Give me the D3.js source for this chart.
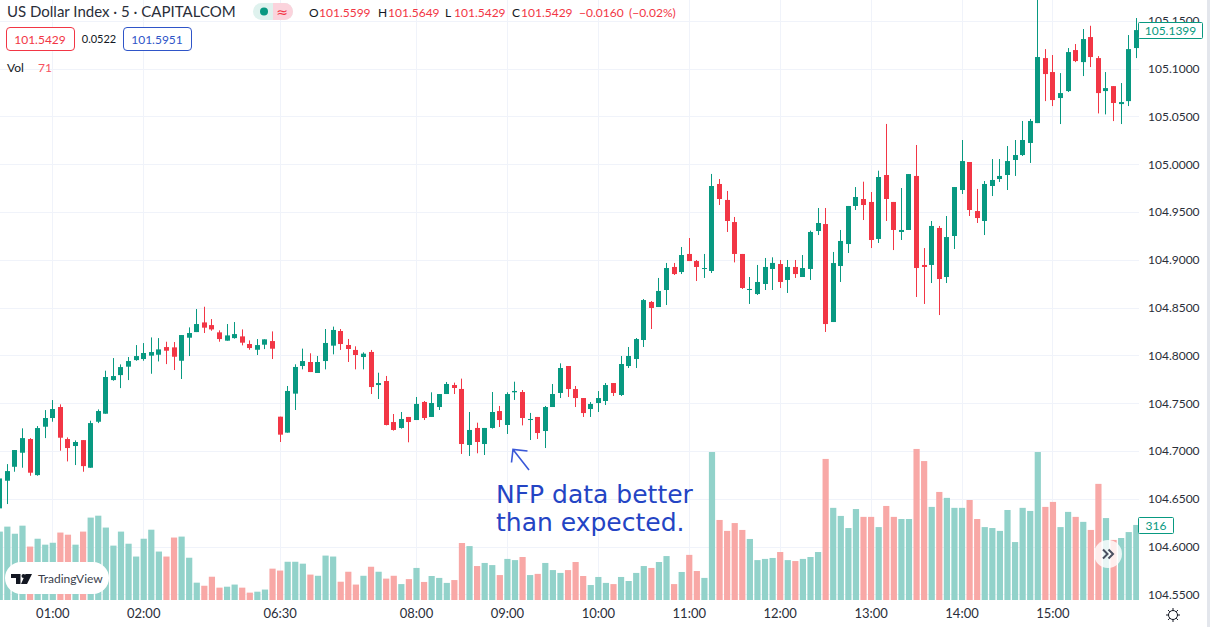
<!DOCTYPE html>
<html>
<head>
<meta charset="utf-8">
<script src="https://cdn.jsdelivr.net/npm/d3@7"></script>
<style>
  html, body { margin: 0; padding: 0; background: #fff; }
  svg { display: block; }
  text { font-family: "Lato", "Open Sans", sans-serif; fill: #131722; }
</style>
</head>
<body>
<svg id="chart" width="1210" height="627"></svg>
<script>
// 5 minute candles
var opens = [104.6400,104.6689,104.6835,104.6982,104.7125,104.6748,104.7254,104.7345,104.7460,104.7125,104.7052,104.7114,104.6825,104.7306,104.7390,104.7742,104.7794,104.7882,104.7951,104.7962,104.7997,104.8007,104.8087,104.8084,104.7944,104.8185,104.8244,104.8345,104.8317,104.8241,104.8154,104.8181,104.8199,104.8119,104.8059,104.8112,104.8150,
  104.7359,104.7192,104.7600,104.7889,104.7931,104.7816,104.7941,104.8102,104.8255,104.8109,104.8057,104.7983,104.8036,104.7690,104.7732,104.7303,104.7241,104.7356,104.7324,104.7513,104.7356,104.7460,104.7596,104.7690,104.7649,104.7063,104.7241,104.7073,104.7241,104.7418,104.7272,104.7614,104.7617,104.7324,104.7356,104.7209,104.7460,
  104.7607,104.7889,104.7648,104.7554,104.7439,104.7502,104.7523,104.7711,104.7586,104.7889,104.7962,104.8161,104.8559,104.8506,104.8684,104.8925,104.8872,104.9061,104.8987,104.8904,104.8883,104.9793,104.9626,104.9395,104.9061,104.8684,104.8642,104.8747,104.8904,104.8956,104.8789,104.8925,104.8820,104.8904,104.9301,
  104.9374,104.8349,104.8935,104.9165,104.9563,104.9636,104.9605,104.9218,104.9887,104.9605,104.9291,104.9312,104.9877,104.8946,104.8946,104.9333,104.8820,104.9249,104.9730,105.0023,104.9510,104.9406,104.9772,104.9845,104.9887,105.0044,105.0096,105.0222,105.0430,105.1110,105.0964,105.0692,105.0765,105.1194,105.1068,105.1330,105.1110,105.0765,105.0817,105.0629,105.0660,105.1215];
var highs = [104.6731,104.6863,104.7010,104.7237,104.7135,104.7261,104.7428,104.7533,104.7488,104.7142,104.7111,104.7114,104.7317,104.7435,104.7840,104.7972,104.7906,104.7983,104.8108,104.8129,104.8188,104.8181,104.8143,104.8140,104.8213,104.8293,104.8485,104.8509,104.8380,104.8262,104.8328,104.8349,104.8272,104.8157,104.8171,104.8168,104.8251,
  104.7359,104.7680,104.7907,104.8071,104.8022,104.7994,104.8276,104.8301,104.8276,104.8172,104.8095,104.8032,104.8057,104.7819,104.7785,104.7387,104.7408,104.7356,104.7565,104.7523,104.7614,104.7596,104.7722,104.7715,104.7757,104.7408,104.7296,104.7241,104.7617,104.7471,104.7614,104.7725,104.7638,104.7398,104.7356,104.7471,104.7701,
  104.7917,104.7889,104.7680,104.7554,104.7512,104.7627,104.7711,104.7711,104.7994,104.8088,104.8182,104.8590,104.8569,104.8810,104.8967,104.8967,104.9134,104.9228,104.8998,104.9061,104.9898,104.9845,104.9720,104.9448,104.9061,104.8820,104.8946,104.9019,104.9026,104.8998,104.8998,104.8998,104.9050,104.9305,104.9542,
  104.9542,104.9082,104.9312,104.9563,104.9761,104.9817,104.9709,104.9932,105.0421,104.9605,104.9751,104.9897,105.0201,104.9123,104.9406,104.9354,104.9458,104.9761,105.0253,105.0023,104.9741,104.9824,105.0054,105.0054,105.0190,105.0253,105.0452,105.0473,105.1850,105.1204,105.1142,105.0953,105.1215,105.1257,105.1414,105.1448,105.1131,105.0964,105.0817,105.0849,105.1351,105.1529];
var lows = [104.6382,104.6445,104.6783,104.6825,104.6741,104.6741,104.7135,104.7306,104.7003,104.6891,104.6853,104.6783,104.6825,104.7292,104.7390,104.7735,104.7658,104.7742,104.7944,104.7944,104.7808,104.7937,104.7909,104.7847,104.7753,104.7993,104.8244,104.8234,104.8258,104.8143,104.8154,104.8175,104.8105,104.8059,104.8004,104.8066,104.7962,
  104.7094,104.7192,104.7429,104.7854,104.7826,104.7816,104.7854,104.8011,104.8057,104.7931,104.7854,104.7854,104.7596,104.7544,104.7268,104.7213,104.7234,104.7091,104.7324,104.7324,104.7356,104.7429,104.7596,104.7596,104.6969,104.6948,104.6976,104.6958,104.7234,104.7251,104.7178,104.7534,104.7268,104.7115,104.7126,104.7031,104.7460,
  104.7554,104.7565,104.7460,104.7356,104.7356,104.7408,104.7481,104.7575,104.7575,104.7868,104.7868,104.8088,104.8276,104.8506,104.8527,104.8841,104.8851,104.8987,104.8778,104.8810,104.8862,104.9573,104.9291,104.8973,104.8695,104.8538,104.8632,104.8684,104.8684,104.8705,104.8653,104.8810,104.8820,104.8789,104.9259,
  104.8245,104.8349,104.8768,104.9071,104.9521,104.9416,104.9123,104.9176,104.9406,104.9102,104.9207,104.9312,104.8611,104.8538,104.8757,104.8422,104.8757,104.9113,104.9688,104.9458,104.9385,104.9259,104.9667,104.9814,104.9730,104.9877,105.0086,105.0013,105.0430,105.0660,105.0608,105.0420,105.0755,105.1068,105.0922,105.1016,105.0531,105.0521,105.0451,105.0420,105.0608,105.1110];
var closes = [104.6713,104.6790,104.7010,104.7135,104.6773,104.7240,104.7345,104.7439,104.7139,104.7031,104.7094,104.6842,104.7292,104.7418,104.7774,104.7784,104.7878,104.7941,104.7993,104.8025,104.8035,104.8063,104.8049,104.7986,104.8213,104.8234,104.8328,104.8290,104.8272,104.8171,104.8209,104.8223,104.8133,104.8077,104.8108,104.8168,104.8070,
  104.7171,104.7628,104.7879,104.7941,104.7826,104.7931,104.8130,104.8266,104.8119,104.8067,104.8004,104.8018,104.7669,104.7711,104.7272,104.7220,104.7335,104.7303,104.7492,104.7345,104.7502,104.7596,104.7701,104.7659,104.7073,104.7220,104.7094,104.7241,104.7408,104.7324,104.7596,104.7628,104.7345,104.7335,104.7188,104.7460,104.7596,
  104.7868,104.7648,104.7554,104.7397,104.7492,104.7554,104.7690,104.7607,104.7910,104.7994,104.8171,104.8579,104.8496,104.8674,104.8914,104.8851,104.9050,104.8987,104.8925,104.8914,104.9772,104.9636,104.9406,104.9061,104.8705,104.8695,104.8768,104.8925,104.8967,104.8768,104.8925,104.8851,104.8914,104.9291,104.9385,
  104.8328,104.8966,104.9197,104.9563,104.9657,104.9573,104.9207,104.9866,104.9636,104.9312,104.9312,104.9897,104.8914,104.8925,104.9354,104.8799,104.9238,104.9761,105.0033,104.9521,104.9437,104.9793,104.9835,104.9877,105.0033,105.0096,105.0253,105.0452,105.1121,105.0943,105.0671,105.0744,105.1173,105.1079,105.1309,105.1121,105.0744,105.0796,105.0640,105.0650,105.1204,105.1403];
var volumes = [288,309,279,313,225,258,233,241,284,275,233,288,347,355,305,229,288,237,183,258,296,204,183,263,267,178,73,60,98,52,56,65,52,31,35,44,132,
  124,161,161,153,107,102,187,183,77,119,65,102,140,119,90,102,67,88,135,76,101,93,72,84,240,227,143,156,147,105,173,168,181,105,110,156,126,
  114,126,160,101,63,97,72,67,97,80,114,143,135,160,185,67,118,190,122,93,623,337,291,324,295,257,168,173,177,202,168,164,173,181,202,
  594,388,354,303,383,350,350,307,396,350,341,341,636,585,392,455,430,388,388,421,341,307,303,291,379,244,388,375,623,392,413,307,371,350,329,295,489,345,253,261,286,316];

// candle index of each time label on the bottom axis (06:30 follows the session gap)
var timeLabels = ["01:00","02:00","06:30","08:00","09:00","10:00","11:00","12:00","13:00","14:00","15:00"];
var timeIndex = [7,19,37,55,67,79,91,103,115,127,139];
var priceTicks = [104.55,104.6,104.65,104.7,104.75,104.8,104.85,104.9,104.95,105,105.05,105.1,105.15];

var GREEN = "#089981", RED = "#f23645", GRID = "#f0f3fa";
var PANE_W = 1139, PANE_H = 600;

var svg = d3.select("#chart");

var x = d3.scaleLinear().domain([0, 150]).range([-0.74, 1135.8]);
var y = d3.scaleLinear().domain([104.7, 105.15]).range([451, 20.8]);
var yVol = d3.scaleLinear().domain([0, 640]).range([PANE_H, PANE_H - 152]);

svg.append("clipPath").attr("id", "pane").append("rect")
  .attr("width", PANE_W).attr("height", PANE_H);

var pane = svg.append("g").attr("clip-path", "url(#pane)");

// grid
pane.selectAll(".hgrid").data(priceTicks).enter().append("line")
  .attr("x1", 0).attr("x2", PANE_W)
  .attr("y1", d => Math.round(y(d)) + .5).attr("y2", d => Math.round(y(d)) + .5)
  .attr("stroke", GRID);
pane.selectAll(".vgrid").data(timeIndex).enter().append("line")
  .attr("y1", 0).attr("y2", PANE_H)
  .attr("x1", d => Math.round(x(d)) + .5).attr("x2", d => Math.round(x(d)) + .5)
  .attr("stroke", GRID);

// volume
var up = i => closes[i] >= opens[i];
pane.selectAll(".vol").data(volumes).enter().append("rect")
  .attr("x", (d, i) => x(i) - 2.6)
  .attr("width", 6.2)
  .attr("y", d => yVol(d))
  .attr("height", d => PANE_H - yVol(d))
  .attr("fill", (d, i) => up(i) ? "#92d2ca" : "#f8a8a6");

// wicks then bodies
pane.selectAll(".wick").data(opens).enter().append("line")
  .attr("x1", (d, i) => Math.round(x(i)) + .5).attr("x2", (d, i) => Math.round(x(i)) + .5)
  .attr("y1", (d, i) => y(highs[i])).attr("y2", (d, i) => y(lows[i]))
  .attr("stroke", (d, i) => up(i) ? GREEN : RED);
pane.selectAll(".body").data(opens).enter().append("rect")
  .attr("x", (d, i) => Math.round(x(i)) - 2)
  .attr("width", 5)
  .attr("y", (d, i) => y(Math.max(d, closes[i])))
  .attr("height", (d, i) => Math.max(1, Math.abs(y(d) - y(closes[i]))))
  .attr("fill", (d, i) => up(i) ? GREEN : RED);

// axes
var yAxis = d3.axisRight(y).tickValues(priceTicks).tickFormat(d3.format(".4f")).tickSize(0).tickPadding(0);
var gy = svg.append("g").attr("transform", "translate(1148,0)").call(yAxis);
gy.select(".domain").remove();
gy.selectAll("text").style("font-family", "Lato").style("font-size", "12px").style("fill", "#2a2e39");

var xAxis = d3.axisBottom(x).tickValues(timeIndex).tickFormat((d, i) => timeLabels[i]).tickSize(0).tickPadding(0);
var gx = svg.append("g").attr("transform", "translate(0,609)").call(xAxis);
gx.select(".domain").remove();
gx.selectAll("text").style("font-family", "Lato").style("font-size", "13px").style("fill", "#2a2e39");

// last value tags
function tag(x0, y0, w, h, label) {
  svg.append("rect").attr("x", x0 + .5).attr("y", y0 + .5).attr("width", w).attr("height", h).attr("rx", 1)
    .attr("fill", "#fff").attr("stroke", GREEN);
  svg.append("text").attr("x", x0 + w / 2 + .5).attr("y", y0 + h / 2 + 4.5).attr("text-anchor", "middle")
    .style("font-size", "12px").style("fill", GREEN).text(label);
}
tag(1138, 22, 64, 16, "105.1399");
tag(1138, 517, 35, 16, volumes[volumes.length - 1]);

// header
svg.append("text").attr("x", 7).attr("y", 17).style("font-size", "15px").style("fill", "#2a2e39").text("US Dollar Index · 5 · CAPITALCOM");

svg.append("rect").attr("x", 253).attr("y", 3).attr("width", 40).attr("height", 17).attr("rx", 8.5).attr("fill", "#dff2ee");
svg.append("path").attr("d", "M273,3h11.5a8.5,8.5 0 0 1 0,17h-11.5z").attr("fill", "#fbd3dc");
svg.append("circle").attr("cx", 264).attr("cy", 11.5).attr("r", 4).attr("fill", GREEN);
svg.append("text").attr("x", 282).attr("y", 16.5).attr("text-anchor", "middle")
  .style("font-family", "DejaVu Sans").style("font-size", "14px").style("fill", RED).text("≈");

var ohlcLabels = [["O", 309], ["H", 378], ["L", 445], ["C", 512]];
var ohlcValues = [["101.5599", 319], ["101.5649", 388], ["101.5429", 454], ["101.5429", 521], ["−0.0160", 579], ["(−0.02%)", 629]];
ohlcLabels.forEach(d => {
  svg.append("text").attr("x", d[1]).attr("y", 17).style("font-size", "12px").text(d[0]);
});
ohlcValues.forEach(d => {
  svg.append("text").attr("x", d[1]).attr("y", 17).style("font-size", "12px").style("fill", RED).text(d[0]);
});

function priceBox(x0, w, label, color) {
  svg.append("rect").attr("x", x0 + .5).attr("y", 27.5).attr("width", w).attr("height", 23).attr("rx", 3.5)
    .attr("fill", "#fff").attr("stroke", color);
  svg.append("text").attr("x", x0 + w / 2).attr("y", 43.5).attr("text-anchor", "middle")
    .style("font-size", "12px").style("fill", color).text(label);
}
priceBox(6, 68, "101.5429", RED);
priceBox(123, 68, "101.5951", "#2f55c8");
svg.append("text").attr("x", 99).attr("y", 43).attr("text-anchor", "middle").style("font-size", "11px").text("0.0522");

svg.append("text").attr("x", 7).attr("y", 72).style("font-size", "12px").text("Vol");
svg.append("text").attr("x", 38).attr("y", 72).style("font-size", "12px").style("fill", "#f7525f").text("71");

// annotation
svg.append("path").attr("d", "M529,470L513,449.5M511.5,462.5L513,449.5L527.5,451")
  .attr("fill", "none").attr("stroke", "#3a58d8").attr("stroke-width", 1.6);
var note = svg.append("text").style("font-family", "DejaVu Sans").style("font-size", "25px").style("fill", "#2444c4");
note.append("tspan").attr("x", 496).attr("y", 503).text("NFP data better");
note.append("tspan").attr("x", 496).attr("y", 531).text("than expected.");

// TradingView badge
svg.append("rect").attr("x", 5).attr("y", 562).attr("width", 104).attr("height", 32).attr("rx", 16).attr("fill", "#fff");
svg.append("path").attr("d", "M11,574h9.5v10h-4.5v-6h-5zM25.5,574h6.5l-5,10h-6z").attr("fill", "#131722");
svg.append("circle").attr("cx", 23.5).attr("cy", 576).attr("r", 2).attr("fill", "#131722");
svg.append("text").attr("x", 38).attr("y", 583).style("font-size", "12px").style("fill", "#3a3e4c").text("TradingView");

// scroll-to-latest button
svg.append("circle").attr("cx", 1108).attr("cy", 554).attr("r", 14).attr("fill", "#fff").attr("fill-opacity", .8);
svg.append("path").attr("d", "M1103,549.5l4.5,4.5l-4.5,4.5M1108.5,549.5l4.5,4.5l-4.5,4.5")
  .attr("fill", "none").attr("stroke", "#4a4f60").attr("stroke-width", 2);

// settings sun icon
var sun = svg.append("g").attr("transform", "translate(1173,615)");
sun.append("circle").attr("r", 4.5).attr("fill", "none").attr("stroke", "#131722");
d3.range(8).forEach(k => {
  var a = k * Math.PI / 4;
  sun.append("line").attr("x1", 4.5 * Math.cos(a)).attr("y1", 4.5 * Math.sin(a))
    .attr("x2", 7 * Math.cos(a)).attr("y2", 7 * Math.sin(a)).attr("stroke", "#131722");
});

// window edge on the right
svg.append("rect").attr("x", 1207).attr("y", 0).attr("width", 3).attr("height", 627).attr("fill", "#e3e6ec");
</script>
</body>
</html>
